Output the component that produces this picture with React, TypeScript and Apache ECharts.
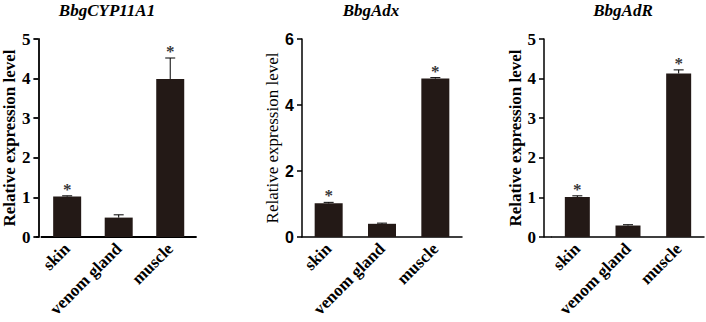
import React, { useEffect, useRef } from "react";
import * as echarts from "echarts";

const categories = ["skin", "venom gland", "muscle"];
const titles = ["BbgCYP11A1", "BbgAdx", "BbgAdR"];

const cypValues = [1.02, 0.49, 3.99];
const cypErrors = [0.02, 0.07, 0.53];
const adxValues = [1.02, 0.4, 4.8];
const adxErrors = [0.03, 0.02, 0.03];
const adrValues = [1.01, 0.29, 4.13];
const adrErrors = [0.03, 0.02, 0.09];
const significance = ["*", "", "*"];

const yMax = [5, 6, 5];
const yInterval = [1, 2, 1];

const BAR = "#231916";
const SERIF = '"Liberation Serif", "Times New Roman", serif';
const SANS = '"Liberation Sans", Arial, sans-serif';

export default function App() {
  const ref = useRef<HTMLDivElement>(null);

  useEffect(() => {
    if (!ref.current) return;
    const chart = echarts.init(ref.current, null, { renderer: "svg" });

    const valuesAll = [cypValues, adxValues, adrValues];
    const errorsAll = [cypErrors, adxErrors, adrErrors];

    const grids = [
      { left: 39, top: 39, width: 157, height: 198 },
      { left: 302, top: 39, width: 160, height: 198 },
      { left: 552, top: 39, width: 152, height: 198 },
    ];
    const yOffsets = [3, 0, 8];
    const barWidths = [28, 28, 25];
    const axisWidths = [1.8, 1.5, 1.5];
    const tickFonts = [SERIF, SANS, SERIF];
    const tickSizes = [17, 16, 17];
    const nameWeights = ["bold", "normal", "bold"];
    const nameGaps = [12, 21, 12];

    const xAxis = grids.map((_, i) => ({
      type: "category",
      gridIndex: i,
      data: categories,
      axisLine: { lineStyle: { color: "#000000", width: axisWidths[i] } },
      axisTick: { alignWithLabel: true, length: 5, lineStyle: { color: "#000000", width: axisWidths[i] } },
      axisLabel: {
        rotate: 45,
        margin: 9,
        color: "#000000",
        fontFamily: SERIF,
        fontWeight: 700,
        fontSize: 17,
        interval: 0,
      },
    }));

    const yAxis = grids.map((_, i) => ({
      type: "value",
      gridIndex: i,
      min: 0,
      max: yMax[i],
      interval: yInterval[i],
      offset: yOffsets[i],
      splitLine: { show: false },
      axisLine: { show: true, lineStyle: { color: "#000000", width: axisWidths[i] } },
      axisTick: { show: true, length: 5, lineStyle: { color: "#000000", width: axisWidths[i] } },
      axisLabel: {
        show: true,
        color: "#000000",
        fontFamily: tickFonts[i],
        fontWeight: 700,
        fontSize: tickSizes[i],
        margin: 8,
        formatter: "{t|{value}}",
        rich: {
          t: {
            color: "#000000",
            fontFamily: tickFonts[i],
            fontWeight: 700,
            fontSize: tickSizes[i],
          },
        },
      },
      name: "Relative expression level",
      nameLocation: "middle",
      nameGap: nameGaps[i],
      nameTextStyle: {
        color: "#000000",
        fontFamily: SERIF,
        fontWeight: nameWeights[i],
        fontSize: 17,
      },
    }));

    const series: any[] = [];
    grids.forEach((_, i) => {
      series.push({
        type: "bar",
        xAxisIndex: i,
        yAxisIndex: i,
        data: valuesAll[i],
        barWidth: barWidths[i],
        itemStyle: { color: BAR },
      });
      series.push({
        type: "custom",
        xAxisIndex: i,
        yAxisIndex: i,
        itemStyle: { color: "#000000" },
        data: valuesAll[i].map((v, k) => [k, v, errorsAll[i][k]]),
        z: 5,
        renderItem: (params: any, api: any) => {
          const idx = api.value(0);
          const v = api.value(1);
          const e = api.value(2);
          const base = api.coord([idx, v]);
          const top = api.coord([idx, v + e]);
          const cx = base[0];
          return {
            type: "group",
            children: [
              {
                type: "line",
                shape: { x1: cx, y1: base[1], x2: cx, y2: top[1] },
                style: { stroke: "#000000", lineWidth: 1 },
              },
              {
                type: "line",
                shape: { x1: cx - 5, y1: top[1], x2: cx + 5, y2: top[1] },
                style: { stroke: "#000000", lineWidth: 1 },
              },
            ],
          };
        },
      });
      series.push({
        type: "scatter",
        xAxisIndex: i,
        yAxisIndex: i,
        symbolSize: 0,
        silent: true,
        z: 6,
        itemStyle: { color: "#000000" },
        data: valuesAll[i].map((v, k) => [k, v + errorsAll[i][k]]),
        label: {
          show: true,
          position: "top",
          distance: -2,
          color: "#000000",
          fontFamily: SERIF,
          fontWeight: 700,
          fontSize: 17,
          formatter: (p: any) => significance[p.dataIndex],
        },
      });
    });

    const titleX = [107, 371, 623];
    const graphic: any[] = titles.map((t, i) => ({
      type: "text",
      x: titleX[i],
      y: 10,
      style: {
        text: t,
        align: "center",
        verticalAlign: "middle",
        fill: "#000000",
        fontFamily: SERIF,
        fontStyle: "italic",
        fontWeight: 700,
        fontSize: 17,
      },
    }));
    grids.forEach((g, i) => {
      if (yOffsets[i] > 0) {
        graphic.push({
          type: "line",
          shape: { x1: g.left - yOffsets[i], y1: g.top + g.height, x2: g.left, y2: g.top + g.height },
          style: { stroke: "#000000", lineWidth: axisWidths[i] },
        });
      }
    });

    chart.setOption({
      animation: false,
      backgroundColor: "#ffffff",
      grid: grids,
      xAxis,
      yAxis,
      series,
      graphic,
    });

    return () => chart.dispose();
  }, []);

  return (
    <div
      ref={ref}
      style={{ width: 706, height: 322, position: "absolute", left: 0, top: 0 }}
    />
  );
}
